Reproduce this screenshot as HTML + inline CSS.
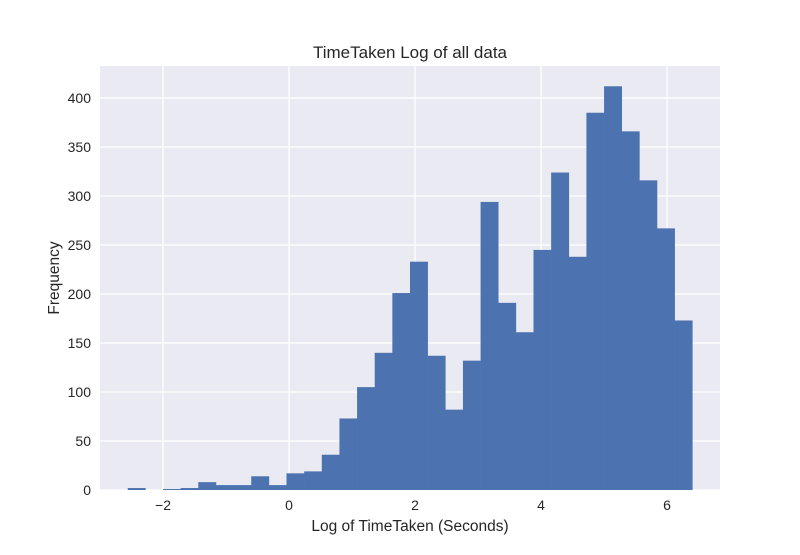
<!DOCTYPE html>
<html><head><meta charset="utf-8"><style>
body{margin:0;background:#fff;font-family:"Liberation Sans",Arial,sans-serif}
</style></head><body>
<svg id="chart" width="800" height="550" xmlns="http://www.w3.org/2000/svg"></svg>
<script>
const counts=[2,0,1,2,8,5,5,14,5,17,19,36,73,105,140,201,233,137,82,132,294,191,161,245,324,238,385,412,366,316,267,173];
const binStart=-2.56, binWidth=0.28;
const xTicks=[-2,0,2,4,6];
const xTickLabels=["\u22122","0","2","4","6"];
const yTicks=[0,50,100,150,200,250,300,350,400];
const L=100,R=720,T=66,B=490;
const xMin=-3.0,xMax=6.84,yMax=432.7;
const xs=v=>L+(v-xMin)/(xMax-xMin)*(R-L);
const ys=v=>B-v/yMax*(B-T);
const svg=document.getElementById('chart');
const NS='http://www.w3.org/2000/svg';
function mk(tag,attrs,parent){const e=document.createElementNS(NS,tag);for(const k in attrs)e.setAttribute(k,attrs[k]);(parent||svg).appendChild(e);return e;}
const bg=mk('rect',{x:L,y:T,width:R-L,height:B-T,fill:'#EAEAF2'});


xTicks.forEach((t,i)=>{
  const g=mk('line',{x1:xs(t),x2:xs(t),y1:T,y2:B,stroke:'#fff','stroke-width':1.3});
  
  
  const tx=mk('text',{x:xs(t),y:B+20,'text-anchor':'middle','font-size':14,fill:'#262626'});
  tx.textContent=xTickLabels[i];
  
  
});
yTicks.forEach(t=>{
  const g=mk('line',{x1:L,x2:R,y1:ys(t),y2:ys(t),stroke:'#fff','stroke-width':1.3});
  
  
  const tx=mk('text',{x:L-9,y:ys(t)+5,'text-anchor':'end','font-size':14,fill:'#262626'});
  tx.textContent=t;
  
  
});
counts.forEach((c,i)=>{
  const x0=xs(binStart+i*binWidth),x1=xs(binStart+(i+1)*binWidth);
  const r=mk('rect',{x:x0,y:ys(c),width:x1-x0+0.3,height:B-ys(c),fill:'#4C72B0'});
  
  
});
const title=mk('text',{x:(L+R)/2,y:T-8,'text-anchor':'middle','font-size':17,fill:'#262626'});
title.textContent='TimeTaken Log of all data';


const xl=mk('text',{x:(L+R)/2,y:B+41,'text-anchor':'middle','font-size':15.5,fill:'#262626'});
xl.textContent='Log of TimeTaken (Seconds)';


const yl=mk('text',{x:0,y:0,'text-anchor':'middle','font-size':15.5,fill:'#262626',transform:`translate(59,${(T+B)/2}) rotate(-90)`});
yl.textContent='Frequency';


</script>
</body></html>
